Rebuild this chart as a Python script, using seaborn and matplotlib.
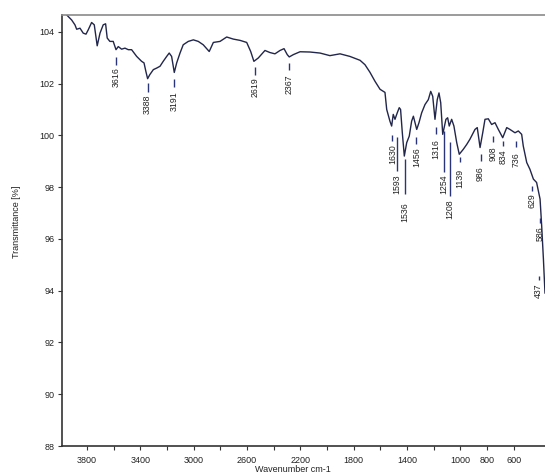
import numpy as np
import pandas as pd
import matplotlib
matplotlib.use("Agg")
import matplotlib.pyplot as plt
import seaborn as sns

# ---- spectrum data (wavenumber cm-1, transmittance %) ----
wavenumber = [3960, 3940, 3915, 3890, 3877, 3852, 3828, 3807, 3790, 3765, 3745, 3723,
              3702, 3678, 3660, 3648, 3628, 3603, 3582, 3565, 3540, 3515, 3490, 3465,
              3427, 3390, 3372, 3358, 3345, 3328, 3302, 3277, 3252, 3228, 3202, 3183,
              3165, 3145, 3127, 3102, 3078, 3040, 3002, 2965, 2928, 2883, 2852, 2802,
              2752, 2703, 2652, 2602, 2572, 2548, 2515, 2465, 2428, 2390, 2352, 2322,
              2298, 2283, 2252, 2202, 2128, 2052, 1978, 1902, 1828, 1752, 1715, 1678,
              1640, 1602, 1565, 1552, 1528, 1515, 1503, 1490, 1473, 1458, 1448, 1435,
              1420, 1402, 1383, 1365, 1352, 1340, 1327, 1310, 1290, 1265, 1240, 1222,
              1207, 1190, 1173, 1160, 1147, 1132, 1108, 1095, 1083, 1065, 1048, 1027,
              1008, 978, 952, 928, 890, 873, 852, 832, 815, 790, 765, 740,
              715, 682, 652, 628, 590, 565, 540, 528, 502, 478, 452, 428,
              415, 402, 390, 382, 377, 365]
transmittance = [104.70, 104.59, 104.46, 104.27, 104.10, 104.14, 103.95, 103.91, 104.08, 104.36, 104.27, 103.46,
                 103.95, 104.27, 104.31, 103.76, 103.63, 103.63, 103.31, 103.43, 103.33, 103.37, 103.31, 103.31,
                 103.05, 102.86, 102.80, 102.47, 102.19, 102.35, 102.54, 102.60, 102.67, 102.86, 103.05, 103.18,
                 103.05, 102.43, 102.80, 103.18, 103.50, 103.63, 103.69, 103.63, 103.50, 103.24, 103.59, 103.63,
                 103.80, 103.72, 103.67, 103.59, 103.24, 102.86, 102.99, 103.28, 103.20, 103.15, 103.28, 103.35,
                 103.12, 103.03, 103.12, 103.23, 103.22, 103.18, 103.08, 103.15, 103.05, 102.90, 102.73, 102.44,
                 102.09, 101.78, 101.66, 101.00, 100.55, 100.36, 100.81, 100.62, 100.87, 101.07, 101.00, 100.10,
                 99.20, 99.72, 99.97, 100.55, 100.74, 100.49, 100.23, 100.49, 100.87, 101.19, 101.38, 101.70,
                 101.51, 100.62, 101.38, 101.64, 101.26, 100.04, 100.62, 100.68, 100.36, 100.62, 100.36, 99.72,
                 99.27, 99.46, 99.65, 99.85, 100.23, 100.30, 99.53, 100.10, 100.62, 100.64, 100.42, 100.49,
                 100.23, 99.91, 100.30, 100.23, 100.10, 100.17, 100.04, 99.59, 98.95, 98.69, 98.31, 98.18,
                 97.86, 97.54, 96.51, 95.74, 95.23, 93.90]

# ---- peak labels as printed, and their positions on the axis scale ----
peak_labels = ["3616", "3388", "3191", "2619", "2367", "1630", "1593", "1536", "1456", "1316",
               "1254", "1208", "1139", "986", "908", "834", "736", "629", "586", "437"]
peak_wn = [3582, 3345, 3145, 2540, 2283, 1510, 1477, 1415, 1330, 1182,
           1122, 1078, 1002, 848, 757, 677, 582, 465, 402, 412]

# ---- axis ticks ----
x_ticks = [3800, 3600, 3400, 3200, 3000, 2800, 2600, 2400, 2200, 2000, 1800, 1600, 1400, 1200, 1000, 800, 600]
x_tick_labels = ["3800", "", "3400", "", "3000", "", "2600", "", "2200", "", "1800", "", "1400", "", "1000", "800", "600"]
y_ticks = [88, 90, 92, 94, 96, 98, 100, 102, 104]

# annotation layout: (dash top, dash bottom, text top) in transmittance units
ann_layout = [(103.04, 102.73, 102.62), (102.04, 101.69, 101.58), (102.19, 101.88, 101.69),
              (102.65, 102.35, 102.23), (102.81, 102.54, 102.35), (100.00, 99.78, 99.65),
              (99.92, 98.62, 98.50), (99.08, 97.73, 97.42), (99.92, 99.65, 99.54),
              (100.31, 100.04, 99.85), (100.15, 98.58, 98.50), (99.73, 97.65, 97.54),
              (99.15, 98.96, 98.72), (99.27, 99.00, 98.81), (99.96, 99.73, 99.58),
              (99.77, 99.58, 99.46), (99.77, 99.54, 99.35), (98.04, 97.85, 97.75),
              (96.80, 96.62, 96.50), (94.55, 94.40, 94.27)]

sns.set_theme(style="white")
plt.rcParams['font.family'] = ['Liberation Sans', 'DejaVu Sans']

fig = plt.figure(figsize=(5.45, 4.75), dpi=100)
ax = fig.add_axes([62 / 545, 1 - 446 / 475, 1 - 62 / 545, (446 - 15) / 475])

df = pd.DataFrame({"wn": wavenumber, "T": transmittance})
sns.lineplot(data=df, x="wn", y="T", ax=ax, color="#22264a", linewidth=1.0, sort=False)

ax.set_xlim(3987, 365)
ax.set_ylim(88.05, 104.65)

line_col = "#2a3478"
for lab, wn, (y0, y1, yt) in zip(peak_labels, peak_wn, ann_layout):
    ax.vlines(wn, y1, y0, color=line_col, linewidth=1.0, clip_on=False)
    ax.text(wn, yt, lab, rotation=90, ha="center", va="top", fontsize=6.3, color="#222222")

ax.set_xticks(x_ticks)
ax.set_xticklabels(x_tick_labels)
ax.set_yticks(y_ticks)
ax.set_yticklabels([str(v) for v in y_ticks])
ax.tick_params(axis="both", which="major", direction="out", length=3, width=0.8,
               labelsize=6.5, color="#333333", labelcolor="#222222", pad=2.5)
ax.tick_params(axis="x", bottom=True, pad=4)
ax.tick_params(axis="y", left=True)

for s in ["left", "bottom"]:
    ax.spines[s].set_color("#333333")
    ax.spines[s].set_linewidth(1.2)
ax.spines["top"].set_color("#8a8a8a")
ax.spines["top"].set_linewidth(1.2)
ax.spines["right"].set_visible(False)

ax.set_xlabel("Wavenumber cm-1", fontsize=6.5, color="#222222")
ax.set_ylabel("Transmittance [%]", fontsize=6.5, color="#222222")
ax.xaxis.set_label_coords(0.478, -0.045)
ax.yaxis.set_label_coords(-0.085, 0.52)

fig.savefig("out.png", dpi=100, facecolor="white")
